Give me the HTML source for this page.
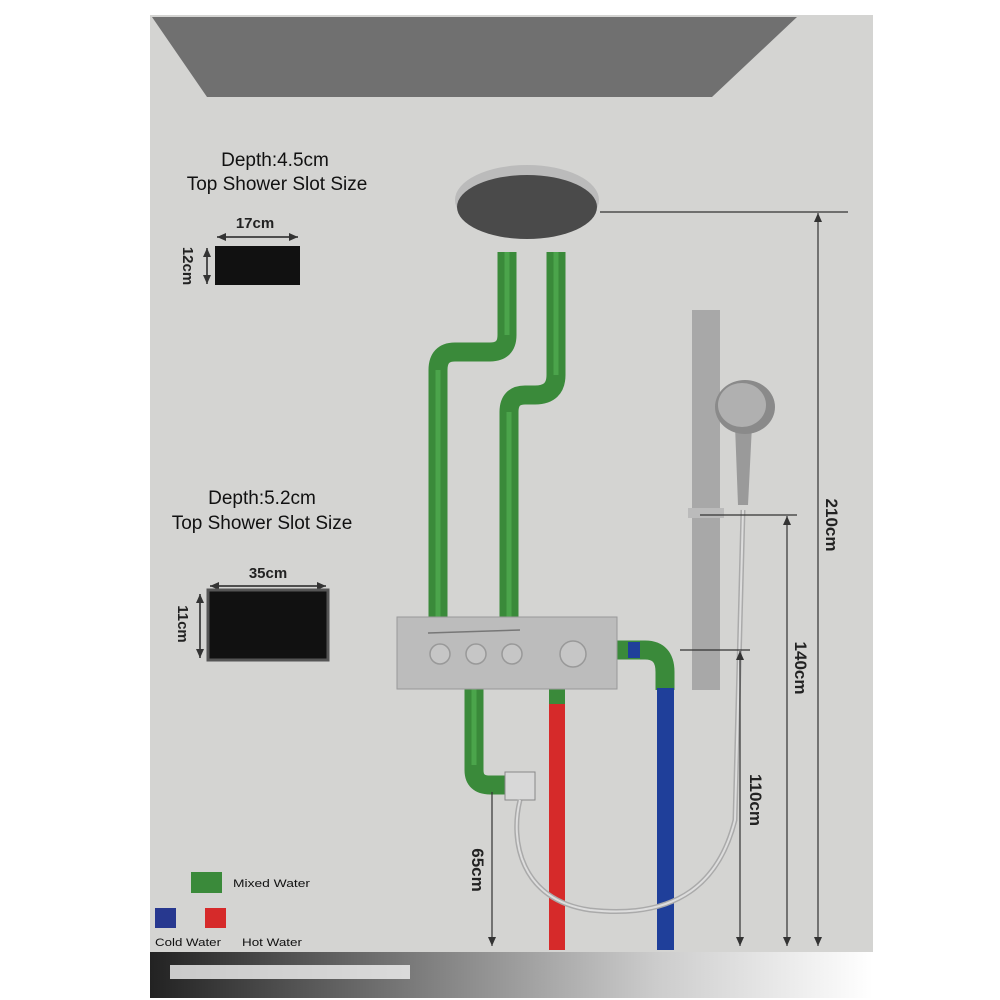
<!DOCTYPE html>
<html><head><style>
body{margin:0;background:#fff;width:1000px;height:1000px;overflow:hidden}
svg{display:block}
text{font-family:"Liberation Sans",sans-serif}
</style></head><body>
<svg width="1000" height="1000" viewBox="0 0 1000 1000" xmlns="http://www.w3.org/2000/svg">
<defs>
<linearGradient id="fl" x1="0" x2="1" y1="0" y2="0"><stop offset="0" stop-color="#222"/><stop offset="0.35" stop-color="#777"/><stop offset="0.7" stop-color="#ccc"/><stop offset="1" stop-color="#fff"/></linearGradient>
<marker id="ah" markerWidth="10" markerHeight="10" refX="9" refY="4" orient="auto-start-reverse" markerUnits="userSpaceOnUse"><path d="M0,0 L9,4 L0,8 Z" fill="#333"/></marker>
</defs>
<rect x="150" y="15" width="723" height="937" fill="#d4d4d2"/>
<polygon points="152,17 797,17 712,97 207,97" fill="#707070"/>
<rect x="150" y="952" width="723" height="46" fill="url(#fl)"/>
<rect x="170" y="965" width="240" height="14" fill="#f2f2f2" opacity="0.8"/>

<g font-size="19" fill="#111" text-anchor="middle">
<text x="275" y="166">Depth:4.5cm</text>
<text x="277" y="190">Top Shower Slot Size</text>
<text x="262" y="504">Depth:5.2cm</text>
<text x="262" y="529">Top Shower Slot Size</text>
</g>
<text x="255" y="228" font-size="15" font-weight="bold" text-anchor="middle" fill="#222">17cm</text>
<line x1="217" y1="237" x2="298" y2="237" stroke="#222" stroke-width="1.5" marker-start="url(#ah)" marker-end="url(#ah)"/>
<line x1="207" y1="248" x2="207" y2="284" stroke="#222" stroke-width="1.5" marker-start="url(#ah)" marker-end="url(#ah)"/>
<rect x="215" y="246" width="85" height="39" fill="#111"/>
<text transform="translate(183,266) rotate(90)" font-size="15" font-weight="bold" text-anchor="middle" fill="#222">12cm</text>
<text x="268" y="578" font-size="15" font-weight="bold" text-anchor="middle" fill="#222">35cm</text>
<line x1="210" y1="586" x2="326" y2="586" stroke="#222" stroke-width="1.5" marker-start="url(#ah)" marker-end="url(#ah)"/>
<line x1="200" y1="594" x2="200" y2="658" stroke="#222" stroke-width="1.5" marker-start="url(#ah)" marker-end="url(#ah)"/>
<rect x="208" y="590" width="120" height="70" fill="#111" stroke="#555" stroke-width="3"/>
<text transform="translate(178,624) rotate(90)" font-size="15" font-weight="bold" text-anchor="middle" fill="#222">11cm</text>

<ellipse cx="527" cy="200" rx="72" ry="35" fill="#bbb"/>
<ellipse cx="527" cy="207" rx="70" ry="32" fill="#4a4a4a"/>

<g fill="none" stroke="#3a8a3a" stroke-width="19" stroke-linejoin="round">
<path d="M507,252 V335 Q507,352 490,352 H455 Q438,352 438,370 V620"/>
<path d="M556,252 V375 Q556,395 535,395 H525 Q509,395 509,412 V620"/>
<path d="M474,688 V770 Q474,785 490,785 H510"/>
<path d="M617,650 H645 Q665,650 665,672 V690"/>
</g>
<g fill="none" stroke="#5cbf5c" stroke-width="5" opacity="0.5">
<path d="M507,252 V335"/><path d="M438,370 V620"/><path d="M556,252 V375"/><path d="M509,412 V620"/><path d="M474,688 V765"/>
</g>
<rect x="549" y="688" width="16" height="18" fill="#3a8a3a"/>
<rect x="549" y="704" width="16" height="246" fill="#d62a2a"/>
<rect x="657" y="688" width="17" height="262" fill="#1f3f9a"/>
<rect x="628" y="642" width="12" height="16" fill="#1f3f9a"/>

<rect x="397" y="617" width="220" height="72" fill="#bcbcbc" stroke="#999"/>
<line x1="428" y1="633" x2="520" y2="630" stroke="#777" stroke-width="1.5"/>
<g fill="#c6c6c6" stroke="#999" stroke-width="1.5">
<circle cx="440" cy="654" r="10"/><circle cx="476" cy="654" r="10"/><circle cx="512" cy="654" r="10"/>
<circle cx="573" cy="654" r="13"/>
</g>
<rect x="505" y="772" width="30" height="28" fill="#d8d8d8" stroke="#888"/>

<rect x="692" y="310" width="28" height="380" fill="#a8a8a8"/>
<rect x="688" y="508" width="36" height="10" fill="#bbb"/>
<path d="M738,505 L735,425 L752,425 L748,505 Z" fill="#9a9a9a"/>
<ellipse cx="745" cy="407" rx="30" ry="27" fill="#8a8a8a"/>
<ellipse cx="742" cy="405" rx="24" ry="22" fill="#b0b0b0"/>
<path d="M520,800 C510,840 520,900 590,910 C680,920 720,880 735,820 L743,510" fill="none" stroke="#aaa" stroke-width="5"/>
<path d="M520,800 C510,840 520,900 590,910 C680,920 720,880 735,820 L743,510" fill="none" stroke="#ddd" stroke-width="2"/>

<g stroke="#333" stroke-width="1.2" fill="none">
<line x1="600" y1="212" x2="848" y2="212"/>
<line x1="818" y1="213" x2="818" y2="946" marker-start="url(#ah)" marker-end="url(#ah)"/>
<line x1="700" y1="515" x2="797" y2="515"/>
<line x1="787" y1="516" x2="787" y2="946" marker-start="url(#ah)" marker-end="url(#ah)"/>
<line x1="680" y1="650" x2="750" y2="650"/>
<line x1="740" y1="651" x2="740" y2="946" marker-start="url(#ah)" marker-end="url(#ah)"/>
<line x1="492" y1="792" x2="492" y2="946" marker-end="url(#ah)"/>
</g>
<g font-size="17" font-weight="bold" fill="#222" text-anchor="middle">
<text transform="translate(826,525) rotate(90)">210cm</text>
<text transform="translate(795,668) rotate(90)">140cm</text>
<text transform="translate(750,800) rotate(90)">110cm</text>
<text transform="translate(472,870) rotate(90)">65cm</text>
</g>

<rect x="191" y="872" width="31" height="21" fill="#3a8a3a"/>
<text x="233" y="887" font-size="11" fill="#111" textLength="77" lengthAdjust="spacingAndGlyphs">Mixed Water</text>
<rect x="155" y="908" width="21" height="20" fill="#27388f"/>
<rect x="205" y="908" width="21" height="20" fill="#d62a2a"/>
<text x="155" y="946" font-size="11" fill="#111" textLength="66" lengthAdjust="spacingAndGlyphs">Cold Water</text>
<text x="242" y="946" font-size="11" fill="#111" textLength="60" lengthAdjust="spacingAndGlyphs">Hot Water</text>
</svg>
</body></html>
